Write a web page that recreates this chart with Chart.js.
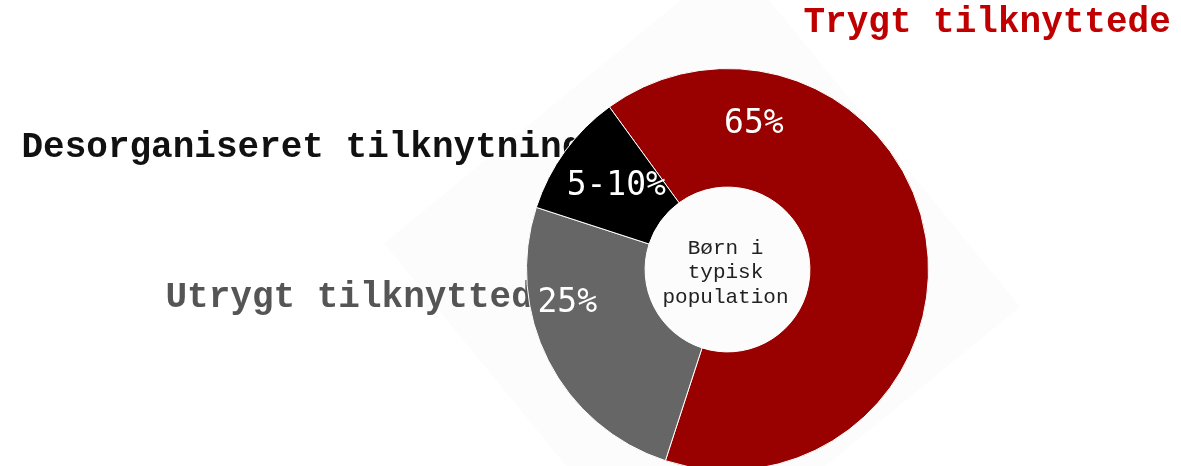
<!DOCTYPE html>
<html lang="da">
<head>
<meta charset="utf-8">
<title>Tilknytning</title>
<script src="https://cdn.jsdelivr.net/npm/chart.js@4"></script>
<style>
  html, body { margin: 0; padding: 0; background: #fff; overflow: hidden; }
  .wrap { position: relative; width: 1181px; height: 480px; }
  .diamond {
    position: absolute;
    left: 476px; top: 49px;
    width: 452px; height: 452px;
    background: #fcfcfc;
    transform: rotate(50.7deg);
  }
  #chart { position: relative; }
</style>
</head>
<body>
<div class="wrap">
  <div class="diamond"></div>
  <canvas id="chart"></canvas>
</div>

<script>
/* Data */
const categories = ["Trygt tilknyttede", "Utrygt tilknyttede", "Desorganiseret tilknytning"];
const values = [65, 25, 10];
const valueLabels = ["65%", "25%", "5-10%"];
const centerLines = ["Børn i", "typisk", "population"];

const colors = ["#990000", "#666666", "#000000"];
const nameColors = ["#c00000", "#555555", "#111111"];

/* Where the texts sit, relative to the doughnut centre and radius */
const nameSpots = [
  { dx: 76, dy: -238 },
  { dx: -562, dy: 37 },
  { dx: -706, dy: -113 }
];
const valueSpots = [
  { angle: 10.3, r: 0.735 },
  { angle: 258, r: 0.815 },
  { angle: 306.7, r: 0.69 }
];


/* Category names, drawn under the rings */
const namePlugin = {
  id: "names",
  beforeDatasetsDraw(chart) {
    const arc = chart.getDatasetMeta(0).data[0];
    const ctx = chart.ctx;
    ctx.save();
    ctx.font = "bold 36px 'Liberation Mono', 'Courier New', monospace";
    ctx.textAlign = "left";
    ctx.textBaseline = "alphabetic";
    categories.forEach((name, i) => {
      ctx.fillStyle = nameColors[i];
      ctx.fillText(name, arc.x + nameSpots[i].dx, arc.y + nameSpots[i].dy);
    });
    ctx.restore();
  }
};


/* Percent labels and centre text */
const labelPlugin = {
  id: "labels",
  afterDatasetsDraw(chart) {
    const arcs = chart.getDatasetMeta(0).data;
    const ctx = chart.ctx;
    const cx = arcs[0].x;
    const cy = arcs[0].y;
    const R = arcs[0].outerRadius;

    ctx.save();
    ctx.font = "33px 'DejaVu Sans Mono', monospace";
    ctx.fillStyle = "#ffffff";
    ctx.textAlign = "center";
    ctx.textBaseline = "middle";
    valueLabels.forEach((txt, i) => {
      const a = valueSpots[i].angle * Math.PI / 180;
      const r = R * valueSpots[i].r;
      ctx.fillText(txt, cx + r * Math.sin(a), cy - r * Math.cos(a));
    });

    ctx.font = "21px 'Liberation Mono', 'Courier New', monospace";
    ctx.fillStyle = "#222222";
    const lh = 24.5;
    centerLines.forEach((line, i) => {
      ctx.fillText(line, cx - 2, cy + 3 + (i - 1) * lh);
    });
    ctx.restore();
  }
};


/* Chart */
new Chart(document.getElementById("chart"), {
  type: "doughnut",
  data: {
    labels: categories,
    datasets: [{
      data: values,
      backgroundColor: colors,
      borderColor: "#ffffff",
      borderWidth: 1
    }]
  },
  options: {
    responsive: true,
    maintainAspectRatio: false,
    animation: false,
    rotation: -36,
    cutout: "41%",
    layout: {
      padding: { top: 68, bottom: 9, left: 525, right: 251 }
    },
    plugins: {
      legend: { display: false },
      tooltip: { enabled: false }
    }
  },
  plugins: [namePlugin, labelPlugin]
});
</script>
</body>
</html>
